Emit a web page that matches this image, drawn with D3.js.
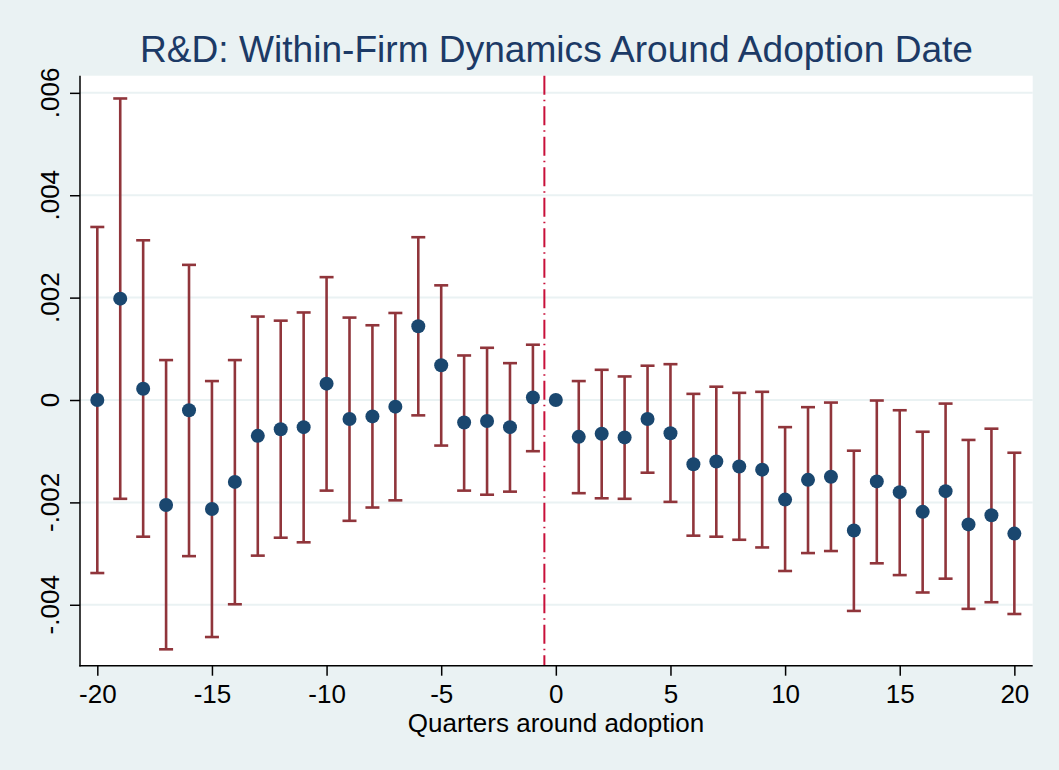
<!DOCTYPE html>
<html>
<head>
<meta charset="utf-8">
<script src="https://cdn.jsdelivr.net/npm/d3@7"></script>
<style>
    body { margin: 0; background: #eaf2f3; }
    svg { display: block; font-family: "Liberation Sans", Arial, Helvetica, sans-serif; }
</style>
</head>
<body>
<svg id="chart"></svg>
<script>
// quarters relative to adoption
const quarters = d3.range(-20, 21);
// point estimates (x 0.001)
const coef = [0.00, 1.98, 0.22, -2.05, -0.20, -2.13, -1.60, -0.70, -0.57, -0.53,
    0.32, -0.37, -0.32, -0.13, 1.44, 0.68, -0.44, -0.41, -0.53, 0.05,
    0.00,
    -0.72, -0.66, -0.73, -0.37, -0.65, -1.255, -1.20, -1.30, -1.36, -1.945,
    -1.56, -1.50, -2.55, -1.59, -1.80, -2.185, -1.78, -2.43, -2.25, -2.61];
// upper / lower bounds of confidence interval (x 0.001), null for the reference quarter
const upper = [3.38, 5.89, 3.12, 0.78, 2.64, 0.37, 0.78, 1.63, 1.55, 1.71,
    2.40, 1.61, 1.46, 1.70, 3.18, 2.24, 0.87, 1.02, 0.72, 1.08,
    null,
    0.37, 0.59, 0.46, 0.67, 0.70, 0.12, 0.26, 0.14, 0.16, -0.53,
    -0.14, -0.05, -0.99, -0.01, -0.20, -0.62, -0.07, -0.78, -0.56, -1.03];
const lower = [-3.38, -1.93, -2.67, -4.87, -3.05, -4.63, -3.99, -3.04, -2.69, -2.78,
    -1.77, -2.36, -2.10, -1.96, -0.30, -0.89, -1.77, -1.85, -1.79, -1.00,
    null,
    -1.82, -1.92, -1.93, -1.42, -1.99, -2.65, -2.67, -2.73, -2.88, -3.34,
    -2.99, -2.95, -4.12, -3.19, -3.42, -3.76, -3.49, -4.08, -3.95, -4.18];
const yTicks = [-0.004, -0.002, 0, 0.002, 0.004, 0.006];
const yTickLabels = ["-.004", "-.002", "0", ".002", ".004", ".006"];
const xTicks = [-20, -15, -10, -5, 0, 5, 10, 15, 20];
const adoptionLine = -0.5;

document.addEventListener('DOMContentLoaded', function() {
    const W = 1059, H = 770;
    const plot = { left: 80, right: 1032.7, top: 75.7, bottom: 665.7 };

    const svg = d3.select("#chart")
        .attr("width", W)
        .attr("height", H);

    svg.append("rect")
        .attr("width", W).attr("height", H)
        .attr("fill", "#eaf2f3");

    svg.append("rect")
        .attr("x", plot.left).attr("y", plot.top)
        .attr("width", plot.right - plot.left)
        .attr("height", plot.bottom - plot.top)
        .attr("fill", "#ffffff");

    const x = d3.scaleLinear()
        .domain([-20.755, 20.8])
        .range([plot.left, plot.right]);

    const y = d3.scaleLinear()
        .domain([-0.00519, 0.006335])
        .range([plot.bottom, plot.top]);

    const data = quarters.map((q, i) => ({
        q: q,
        b: coef[i] / 1000,
        hi: upper[i] == null ? null : upper[i] / 1000,
        lo: lower[i] == null ? null : lower[i] / 1000
    }));

    // grid lines
    svg.append("g")
        .selectAll("line")
        .data(yTicks)
        .enter().append("line")
        .attr("x1", plot.left).attr("x2", plot.right)
        .attr("y1", d => y(d)).attr("y2", d => y(d))
        .attr("stroke", "#eaf2f3")
        .attr("stroke-width", 2);

    // vertical adoption line
    svg.append("line")
        .attr("x1", x(adoptionLine)).attr("x2", x(adoptionLine))
        .attr("y1", plot.top).attr("y2", plot.bottom)
        .attr("stroke", "#c8103a")
        .attr("stroke-width", 2)
        .attr("stroke-dasharray", "19,5,1.5,5");

    // confidence intervals
    const bars = data.filter(d => d.hi != null);
    const ci = svg.append("g")
        .attr("stroke", "#90353b")
        .attr("stroke-width", 2.6)
        .attr("fill", "none");

    ci.selectAll(".stem")
        .data(bars)
        .enter().append("line")
        .attr("class", "stem")
        .attr("x1", d => x(d.q)).attr("x2", d => x(d.q))
        .attr("y1", d => y(d.hi)).attr("y2", d => y(d.lo));

    const capW = 7;
    ci.selectAll(".cap-hi")
        .data(bars)
        .enter().append("line")
        .attr("class", "cap-hi")
        .attr("x1", d => x(d.q) - capW).attr("x2", d => x(d.q) + capW)
        .attr("y1", d => y(d.hi)).attr("y2", d => y(d.hi));

    ci.selectAll(".cap-lo")
        .data(bars)
        .enter().append("line")
        .attr("class", "cap-lo")
        .attr("x1", d => x(d.q) - capW).attr("x2", d => x(d.q) + capW)
        .attr("y1", d => y(d.lo)).attr("y2", d => y(d.lo));

    // point estimates
    svg.append("g")
        .selectAll("circle")
        .data(data)
        .enter().append("circle")
        .attr("cx", d => x(d.q))
        .attr("cy", d => y(d.b))
        .attr("r", 7)
        .attr("fill", "#1a476f");

    // y axis
    const yAxis = svg.append("g")
        .attr("transform", `translate(${plot.left},0)`)
        .call(d3.axisLeft(y).tickValues(yTicks).tickSize(10).tickFormat(""));
    yAxis.select(".domain").remove();
    yAxis.selectAll(".tick line").attr("stroke", "#000").attr("stroke-width", 1.5);

    svg.append("line")
        .attr("x1", plot.left).attr("x2", plot.left)
        .attr("y1", plot.top).attr("y2", plot.bottom + 0.75)
        .attr("stroke", "#000").attr("stroke-width", 1.5);

    svg.append("g")
        .selectAll("text")
        .data(yTicks)
        .enter().append("text")
        .attr("transform", d => `translate(59,${y(d)}) rotate(-90)`)
        .attr("text-anchor", "middle")
        .attr("font-size", 26)
        .attr("fill", "#000")
        .text((d, i) => yTickLabels[i]);

    // x axis
    const xAxis = svg.append("g")
        .attr("transform", `translate(0,${plot.bottom})`)
        .call(d3.axisBottom(x).tickValues(xTicks).tickSize(10).tickPadding(9)
            .tickFormat(d => String(d)));
    xAxis.select(".domain").remove();
    xAxis.selectAll(".tick line").attr("stroke", "#000").attr("stroke-width", 1.5);
    xAxis.selectAll(".tick text")
        .attr("font-size", 26)
        .attr("font-family", "Liberation Sans, Arial, sans-serif")
        .attr("fill", "#000");

    svg.append("line")
        .attr("x1", plot.left - 0.75).attr("x2", plot.right)
        .attr("y1", plot.bottom).attr("y2", plot.bottom)
        .attr("stroke", "#000").attr("stroke-width", 1.5);

    svg.append("text")
        .attr("x", (405 + 707) / 2)
        .attr("y", 732)
        .attr("text-anchor", "middle")
        .attr("font-size", 26)
        .attr("fill", "#000")
        .text("Quarters around adoption");

    // title
    svg.append("text")
        .attr("x", 140)
        .attr("y", 62)
        .attr("font-size", 36)
        .attr("textLength", 833)
        .attr("lengthAdjust", "spacingAndGlyphs")
        .attr("fill", "#1c3a66")
        .text("R&D: Within-Firm Dynamics Around Adoption Date");
});
</script>
</body>
</html>
